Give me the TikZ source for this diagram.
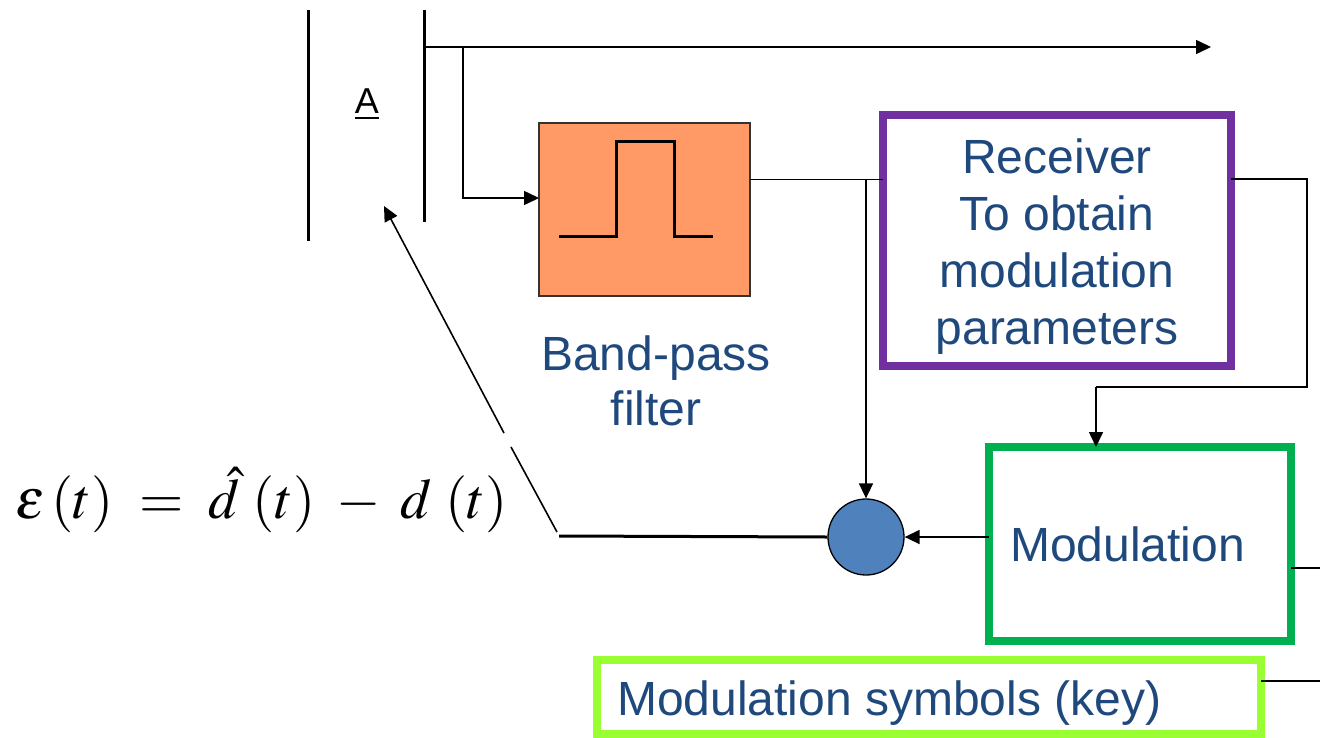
\documentclass[tikz,border=0pt]{standalone}
\usepackage[no-math]{fontspec}
\usepackage{mathptmx}
\setmainfont{Liberation Sans}
\usetikzlibrary{arrows.meta}
\definecolor{txtblue}{HTML}{1F497D}
\definecolor{bpf}{HTML}{FF9966}
\definecolor{purp}{HTML}{7030A0}
\definecolor{grn}{HTML}{00B050}
\definecolor{lgrn}{HTML}{99FF33}
\definecolor{dotblue}{HTML}{4F81BD}
\tikzset{
  wire/.style={line width=1.6pt, draw=black},
  arr/.style={wire, -{Triangle[length=15pt,width=14pt]}},
  bigtxt/.style={text=txtblue, font=\fontsize{48}{57}\selectfont, inner sep=0pt},
  framebox/.style={draw, line width=7.5pt, inner sep=0pt, outer sep=0pt, fill=white},
}
\begin{document}
\begin{tikzpicture}[x=1pt,y=-1pt]
\useasboundingbox (0,0) rectangle (1320,737);
% bars
\coordinate (b1t) at (308,10); \coordinate (b1b) at (308,241);
\coordinate (b2t) at (424,10); \coordinate (b2b) at (424,222);
\draw[line width=3pt] (b1t) -- (b1b);
\draw[line width=3pt] (b2t) -- (b2b);
\node[inner sep=0pt, font=\fontsize{36}{40}\selectfont, anchor=base] (A) at (367,113) {\underline{A}};
% top line
\coordinate (top0) at (424,47);
\coordinate (topend) at (1211,47);
\coordinate (br1) at (463,47);
\draw[arr] (top0) -- (topend);
% band-pass filter
\node[draw=black!80, line width=1.2pt, fill=bpf, minimum width=211pt, minimum height=173pt, inner sep=0pt, outer sep=0pt] (bpf) at (644.5,209.5) {};
\draw[arr] (br1) -- (463,198) -- (bpf.west |- 0,198);
\draw[line width=3pt] (559,236) -- (616,236) -- (616,141) -- (674,141) -- (674,236) -- (713,236);
\node[bigtxt, align=center, anchor=north, font=\fontsize{48}{55}\selectfont] (bpflbl) at (656,336) {Band-pass\\filter};
% receiver
\node[framebox, draw=purp, minimum width=348pt, minimum height=251pt] (rx) at (1057,240.5) {};
\node[bigtxt, align=center, anchor=north, font=\fontsize{48}{57}\selectfont] (rxlbl) at (1057,139) {Receiver\\To obtain\\modulation\\parameters};
% modulation
\node[framebox, draw=grn, minimum width=302pt, minimum height=194pt] (mod) at (1140,544) {};
\node[bigtxt, anchor=base west] (modlbl) at (1010,561) {Modulation};
% key
\node[framebox, draw=lgrn, minimum width=664pt, minimum height=74pt] (key) at (929,697) {};
\node[bigtxt, anchor=base west] (keylbl) at (617,715) {Modulation symbols (key)};
% summing circle
\node[circle, draw=black, line width=1.3pt, fill=dotblue, minimum size=76pt, inner sep=0pt] (sum) at (866,537) {};
% wires
\coordinate (j1) at (866,179.5);
\draw[wire] (bpf.east |- 0,179.5) -- (rx.west |- 0,179.5);
\draw[arr] (j1) -- (sum.north);
\coordinate (c1) at (1307,179);
\coordinate (c2) at (1307,387);
\coordinate (c3) at (1096,387);
\draw[wire] (rx.east |- c1) -- (c1) -- (c2) -- (c3);
\draw[arr] (c3) -- (mod.north -| c3);
\draw[arr] (mod.west |- sum.east) -- (sum.east);
\coordinate (fb) at (559,536);
\draw[line width=3pt] (sum.west) -- (fb);
\coordinate (d1) at (557,532);
\coordinate (d2) at (511,447);
\coordinate (d3) at (504,433);
\coordinate (dtip) at (384,206);
\draw[wire] (d1) -- (d2);
\draw[arr] (d3) -- (dtip);
\coordinate (mo) at (1320,568);
\draw[wire] (mod.east |- mo) -- (mo);
\coordinate (ko) at (1320,681);
\draw[line width=2.5pt] (key.east |- ko) -- (ko);
% equation
\node[inner sep=0pt, anchor=west, font=\fontsize{57}{60}\selectfont] (eq) at (15,500) {$\varepsilon\,(t)\;=\;\hat{d}\,\,(t)\;-\;d\,\,(t)$};
\end{tikzpicture}
\end{document}
